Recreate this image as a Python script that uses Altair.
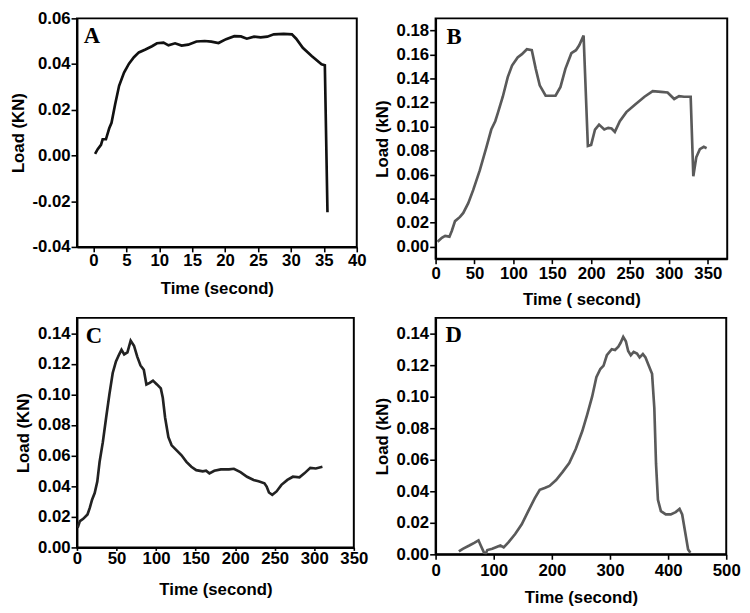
import altair as alt
import pandas as pd

# ---------------- data ----------------
A_time = [0.25, 0.65, 1.15, 1.4, 1.9, 2.4, 2.75, 3.3, 3.9, 4.65, 5.4, 6.15, 6.9, 7.9, 8.9,
          9.65, 10.65, 11.4, 12.4, 13.4, 14.4, 15.65, 16.9, 17.9, 19.0, 20.15, 21.4, 22.4,
          23.3, 24.4, 25.4, 26.4, 27.4, 28.9, 30.15, 30.8, 31.8, 33.15, 34.65, 35.15, 35.55]
A_load = [0.0007, 0.0028, 0.0047, 0.0071, 0.0071, 0.0119, 0.0143, 0.0224, 0.0305, 0.0363,
          0.0402, 0.0430, 0.0451, 0.0464, 0.0478, 0.0491, 0.0494, 0.0482, 0.0491, 0.0481,
          0.0485, 0.0499, 0.0501, 0.0498, 0.0492, 0.0509, 0.0522, 0.0521, 0.0511, 0.0520,
          0.0517, 0.0520, 0.0530, 0.0532, 0.0530, 0.0511, 0.0471, 0.0435, 0.0399, 0.0395,
          -0.0248]

B_time = [2.5, 8, 12.3, 17.8, 20.8, 25, 31.4, 35.6, 42, 48.3, 56.8, 65.3, 71.6, 76.7, 80,
          86.4, 92.8, 98.3, 105.5, 111, 117.4, 123.7, 128.8, 133.9, 141.5, 154.2, 160.6,
          166.9, 174.6, 180.5, 184.7, 190.3, 195.8, 200, 205, 210.2, 216.9, 222, 226.3,
          230.5, 236.9, 245.3, 255.9, 268.6, 279.2, 289.8, 298.3, 306.8, 313.1, 319.5, 328,
          331.4, 335.2, 339.8, 344.9, 348.5]
B_load = [0.0041, 0.0074, 0.0090, 0.0084, 0.0131, 0.0213, 0.0248, 0.0281, 0.0362, 0.0471,
          0.0635, 0.0826, 0.0975, 0.1044, 0.1112, 0.1248, 0.1411, 0.1507, 0.1575, 0.1602,
          0.1643, 0.1635, 0.1480, 0.1343, 0.1256, 0.1256, 0.1330, 0.1480, 0.1610, 0.1635,
          0.1676, 0.1757, 0.0839, 0.0847, 0.0975, 0.1016, 0.0975, 0.0989, 0.0984, 0.0956,
          0.1044, 0.1120, 0.1180, 0.1248, 0.1294, 0.1289, 0.1283, 0.1229, 0.1253, 0.1248,
          0.1248, 0.0586, 0.0744, 0.0812, 0.0831, 0.0820]

C_time = [0.8, 3.7, 7.9, 13.3, 16.2, 19.1, 22.4, 25.7, 28.6, 32.7, 36.9, 41, 45.2, 49.3,
          53.4, 56.3, 59.7, 63.8, 67.9, 72.1, 76.2, 80.3, 84.5, 87.8, 92, 96.1, 101.1, 106,
          108.5, 111.4, 115.6, 119.7, 126, 132.2, 138.4, 144.6, 150.8, 159.1, 163.2, 167.4,
          173.6, 181.9, 192.2, 198.4, 206.7, 215, 223.3, 229.5, 237, 239.8, 242.7, 246.9,
          252.3, 258.5, 266, 273, 281.3, 287.5, 295, 302, 310.3]
C_load = [0.0129, 0.0172, 0.0187, 0.0215, 0.0258, 0.0312, 0.0355, 0.0430, 0.0559, 0.0688,
          0.0849, 0.1000, 0.1140, 0.1215, 0.1262, 0.1292, 0.1262, 0.1275, 0.1351, 0.1318,
          0.1247, 0.1189, 0.1161, 0.1065, 0.1075, 0.1090, 0.1065, 0.1039, 0.0978, 0.0849,
          0.0720, 0.0667, 0.0634, 0.0602, 0.0559, 0.0527, 0.0505, 0.0497, 0.0501, 0.0484,
          0.0501, 0.0510, 0.0510, 0.0514, 0.0492, 0.0462, 0.0441, 0.0432, 0.0419, 0.0398,
          0.0359, 0.0344, 0.0366, 0.0409, 0.0441, 0.0462, 0.0458, 0.0484, 0.0520, 0.0516,
          0.0527]

D_time = [40, 46.8, 58, 66.5, 73.8, 77.7, 83.4, 86.2, 89, 97.5, 106, 111.5, 117.2, 125.6,
          136.9, 148.2, 159.4, 170.7, 179.2, 187.6, 196.1, 207.3, 218.6, 229.9, 241.1,
          252.4, 260.8, 269.3, 276.6, 283.4, 289, 294.6, 303.1, 308.7, 314.4, 318.3, 322.8,
          327.3, 331.3, 335.8, 340.8, 346.5, 351, 356.6, 361.1, 366.8, 372.4, 376.3, 379.2,
          382.5, 387.6, 396, 404.5, 413, 419.7, 424.2, 429.9, 434.4, 438.3]
D_load = [0.0019, 0.0035, 0.0056, 0.0073, 0.0089, 0.0056, 0.0010, 0.0004, 0.0027, 0.0035,
          0.0048, 0.0056, 0.0044, 0.0077, 0.0129, 0.0191, 0.0274, 0.0357, 0.0409, 0.0421,
          0.0434, 0.0471, 0.0523, 0.0579, 0.0668, 0.0782, 0.0886, 0.1000, 0.1124, 0.1176,
          0.1197, 0.1263, 0.1301, 0.1296, 0.1317, 0.1342, 0.1379, 0.1352, 0.1290, 0.1263,
          0.1284, 0.1274, 0.1249, 0.1270, 0.1249, 0.1197, 0.1145, 0.0927, 0.0575, 0.0346,
          0.0274, 0.0253, 0.0253, 0.0268, 0.0288, 0.0253, 0.0129, 0.0031, 0.0010]

A_xticks = [0, 5, 10, 15, 20, 25, 30, 35, 40]
A_yticks = [-0.04, -0.02, 0.0, 0.02, 0.04, 0.06]
B_xticks = [0, 50, 100, 150, 200, 250, 300, 350]
B_yticks = [0.0, 0.02, 0.04, 0.06, 0.08, 0.10, 0.12, 0.14, 0.16, 0.18]
C_xticks = [0, 50, 100, 150, 200, 250, 300, 350]
C_yticks = [0.0, 0.02, 0.04, 0.06, 0.08, 0.10, 0.12, 0.14]
D_xticks = [0, 100, 200, 300, 400, 500]
D_yticks = [0.0, 0.02, 0.04, 0.06, 0.08, 0.10, 0.12, 0.14]

LABEL_EXPR = "(datum.value < 0 ? '-' : '') + format(abs(datum.value), '.2f')"
FONT = "Liberation Sans"


def panel(times, loads, letter, xdom, ydom, xticks, yticks, xtitle, ytitle, color,
          w, h, xtick_size, xlabel_pad, xtitle_pad, letter_x, letter_y):
    df = pd.DataFrame({"t": times, "v": loads})
    x_axis = alt.Axis(values=xticks, title=xtitle, format="d", tickSize=xtick_size,
                      labelPadding=xlabel_pad, titlePadding=xtitle_pad,
                      labelFlush=False, labelOverlap=False)
    y_axis = alt.Axis(values=yticks, title=ytitle, labelExpr=LABEL_EXPR, tickSize=6,
                      labelPadding=1, titlePadding=5, labelOverlap=False)
    line = alt.Chart(df).mark_line(color=color, strokeWidth=2.7, clip=True).encode(
        x=alt.X("t:Q", scale=alt.Scale(domain=xdom, nice=False, zero=False), axis=x_axis),
        y=alt.Y("v:Q", scale=alt.Scale(domain=ydom, nice=False, zero=False), axis=y_axis),
        order="t:Q",
    )
    lab = alt.Chart(pd.DataFrame({"label": [letter]})).mark_text(
        font="Liberation Serif", fontWeight="bold", fontSize=23, align="left",
        baseline="alphabetic", color="black"
    ).encode(text="label:N", x=alt.value(letter_x), y=alt.value(letter_y))
    return alt.layer(line, lab).properties(width=w, height=h)


pA = panel(A_time, A_load, "A", [-2.5, 40], [-0.04, 0.06], A_xticks, A_yticks,
           "Time (second)", "Load (KN)", "#111111", 284, 232, 5, 1, 12, 7, 25)
pB = panel(B_time, B_load, "B", [0, 375], [-0.01, 0.19], B_xticks, B_yticks,
           "Time ( second)", "Load (kN)", "#5a5a5a", 296, 244, 5, 2, 10, 11, 26)
pC = panel(C_time, C_load, "C", [0, 350], [0, 0.15], C_xticks, C_yticks,
           "Time (second)", "Load (KN)", "#222222", 281, 233, 3, 0, 16, 9, 26)
pD = panel(D_time, D_load, "D", [0, 500], [0, 0.15], D_xticks, D_yticks,
           "Time (second)", "Load (kN)", "#5a5a5a", 295, 240, 5, 3, 12, 10, 24)

chart = alt.concat(pA, pB, pC, pD, columns=2, spacing={"row": 60, "column": 80},
                   bounds="flush", align="each").properties(
    padding={"left": 0, "top": -4, "right": 0, "bottom": 0}
).configure_view(
    stroke="black", strokeWidth=2
).configure_axis(
    grid=False, domainColor="black", domainWidth=2, tickColor="black", tickWidth=1.6,
    labelFont=FONT, labelFontWeight="bold", labelFontSize=17, labelColor="black",
    titleFont=FONT, titleFontWeight="bold", titleFontSize=17, titleColor="black",
)

chart.save("out.html", embed_options={"renderer": "svg", "actions": False})
